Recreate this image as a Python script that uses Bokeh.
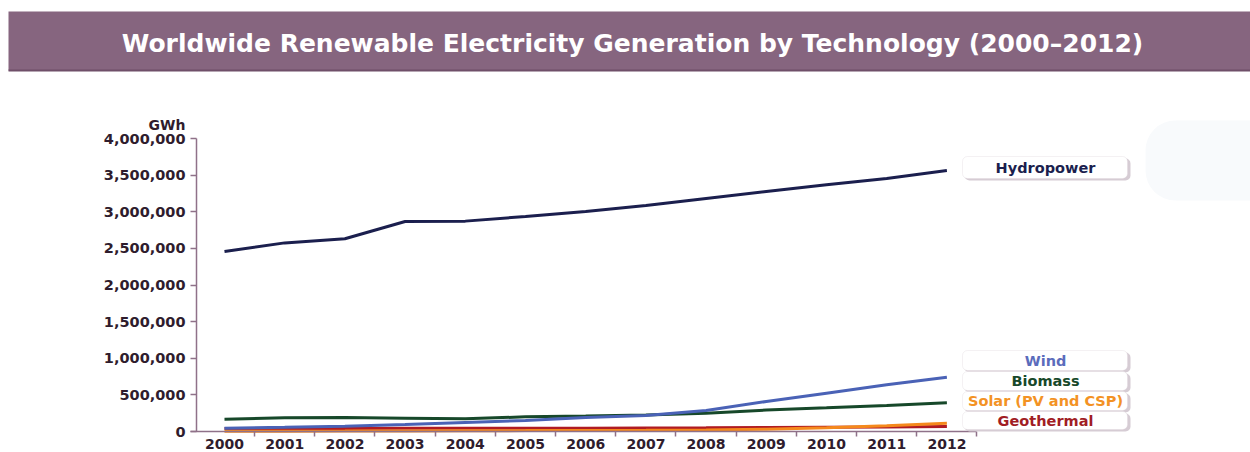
from bokeh.plotting import figure
from bokeh.models import (Range1d, FixedTicker, NumeralTickFormatter, BoxAnnotation,
                          Label, ColumnDataSource, LinearAxis)
from bokeh.core.properties import value
from bokeh.embed import file_html
from bokeh.resources import INLINE

# ---- data (GWh) ----
years = [2000, 2001, 2002, 2003, 2004, 2005, 2006, 2007, 2008, 2009, 2010, 2011, 2012]
hydropower = [2457000, 2575000, 2632000, 2867000, 2872000, 2935000, 3003000, 3085000,
              3180000, 3276000, 3370000, 3454000, 3563000]
wind = [45000, 57000, 73000, 96000, 123000, 150000, 192000, 220000, 287000, 410000,
        523000, 637000, 740000]
biomass = [168000, 188000, 190000, 182000, 175000, 200000, 212000, 226000, 250000,
           293000, 323000, 355000, 391000]
solar = [3000, 5000, 6000, 8000, 10000, 12000, 15000, 18000, 22000, 30000, 50000,
         80000, 113000]
geothermal = [40000, 41000, 42000, 43000, 44000, 45000, 46000, 48000, 51000, 55000,
              59000, 63000, 68000]
series_names = ["Hydropower", "Wind", "Biomass", "Solar (PV and CSP)", "Geothermal"]
y_ticks = [0, 500000, 1000000, 1500000, 2000000, 2500000, 3000000, 3500000, 4000000]

# ---- styling ----
COLORS = {
    "Hydropower": "#1b1f4e",
    "Wind": "#4a62b6",
    "Biomass": "#17482a",
    "Solar (PV and CSP)": "#f5891c",
    "Geothermal": "#b01b22",
}
TEXT_COLORS = {
    "Hydropower": "#1b1f4e",
    "Wind": "#5b6cbc",
    "Biomass": "#17482a",
    "Solar (PV and CSP)": "#f39224",
    "Geothermal": "#a11d24",
}
PURPLE = "#86657f"
AXIS = "#8f7189"
LABEL = "#2f1c2d"
FONT = "DejaVu Sans"

W, H = 1250, 452
LEFT, BOTTOM = 196, 431           # y-axis position / baseline in canvas pixels
PX_YEAR = 60.2                    # pixels per year
PX_GWH = 293 / 4000000            # pixels per GWh
X0 = 1999.535                     # year value at the y-axis


def px_x(px):
    return X0 + (px - LEFT) / PX_YEAR


def px_y(py):
    return (BOTTOM - py) / PX_GWH


# the plotting frame covers the whole canvas; axes are pinned with fixed_location
p = figure(width=W, height=H, output_backend="svg", toolbar_location=None,
           x_range=Range1d(px_x(0), px_x(W)), y_range=Range1d(px_y(H), px_y(0)),
           x_axis_type=None, y_axis_type=None,
           min_border_left=0, min_border_right=0, min_border_top=0, min_border_bottom=0)
p.outline_line_color = None
p.xgrid.visible = False
p.ygrid.visible = False
p.background_fill_color = "white"
p.border_fill_color = "white"

# y axis
yax = LinearAxis(ticker=FixedTicker(ticks=y_ticks), formatter=NumeralTickFormatter(format="0,0"),
                 fixed_location=X0)
yax.bounds = (0, 4000000)
yax.axis_line_color = AXIS
yax.axis_line_width = 1.5
yax.major_tick_line_color = AXIS
yax.major_tick_line_width = 1.5
yax.major_tick_out = 6
yax.major_tick_in = 0
yax.minor_tick_line_color = None
yax.major_label_standoff = 5
yax.major_label_text_font = FONT
yax.major_label_text_font_style = "bold"
yax.major_label_text_font_size = "14.5px"
yax.major_label_text_color = LABEL
p.add_layout(yax, "left")

# x axis: labels on years, tick marks between years
xax = LinearAxis(ticker=FixedTicker(ticks=years, minor_ticks=[y + 0.5 for y in years]),
                 fixed_location=0)
xax.bounds = (X0 - 0.1, 2012.5)
xax.axis_line_color = AXIS
xax.axis_line_width = 1.5
xax.major_tick_line_color = None
xax.major_tick_out = 0
xax.major_tick_in = 0
xax.minor_tick_line_color = AXIS
xax.minor_tick_line_width = 1.5
xax.minor_tick_out = 5
xax.minor_tick_in = 0
xax.major_label_standoff = 2
xax.major_label_text_font = FONT
xax.major_label_text_font_style = "bold"
xax.major_label_text_font_size = "14px"
xax.major_label_text_color = LABEL
p.add_layout(xax, "below")

# series lines
series = {
    "Hydropower": hydropower,
    "Wind": wind,
    "Biomass": biomass,
    "Solar (PV and CSP)": solar,
    "Geothermal": geothermal,
}
for name in ["Geothermal", "Solar (PV and CSP)", "Biomass", "Wind", "Hydropower"]:
    p.line(years, series[name], line_color=COLORS[name], line_width=3)

# header banner
p.add_layout(BoxAnnotation(left=px_x(8), right=px_x(W), top=px_y(11), bottom=px_y(70),
                           fill_color=PURPLE, fill_alpha=1, line_color=None, level="annotation"))
p.add_layout(BoxAnnotation(left=px_x(8), right=px_x(W), top=px_y(69), bottom=px_y(71),
                           fill_color="#6f4f69", fill_alpha=1, line_color=None, level="annotation"))
p.add_layout(Label(x=px_x(632), y=px_y(43),
                   text="Worldwide Renewable Electricity Generation by Technology (2000\u20132012)",
                   text_font=FONT, text_font_style="bold", text_font_size="25px",
                   text_color="white", text_align="center", text_baseline="middle",
                   level="overlay"))

# unit label
p.add_layout(Label(x=px_x(185), y=px_y(124), text="GWh", text_font=FONT,
                   text_font_style="bold", text_font_size="14px", text_color=LABEL,
                   text_align="right", text_baseline="alphabetic", level="overlay"))

# faint decoration at top right
p.add_layout(BoxAnnotation(left=px_x(1145), right=px_x(1290), top=px_y(120), bottom=px_y(200),
                           fill_color="#f8fafc", fill_alpha=1, line_color=None,
                           border_radius=30, level="underlay"))

# series name tags
tag_rows = {  # top / bottom in canvas pixels
    "Hydropower": (156, 178),
    "Wind": (350, 370),
    "Biomass": (371, 390),
    "Solar (PV and CSP)": (391, 410),
    "Geothermal": (411, 429),
}
tx, ty, tt, tc = [], [], [], []
for name in series_names:
    top, bot = tag_rows[name]
    p.add_layout(BoxAnnotation(left=px_x(964), right=px_x(1130), top=px_y(top + 2),
                               bottom=px_y(bot + 2), fill_color="#d6ccd4", fill_alpha=1,
                               line_color=None, border_radius=5, level="annotation"))
    p.add_layout(BoxAnnotation(left=px_x(962), right=px_x(1127), top=px_y(top),
                               bottom=px_y(bot), fill_color="white", fill_alpha=1,
                               line_color="#d9d0d7", line_width=1, border_radius=5,
                               level="annotation"))
    tx.append(px_x(1045))
    ty.append(px_y((top + bot) / 2))
    tt.append(name)
    tc.append(TEXT_COLORS[name])

src = ColumnDataSource(dict(x=tx, y=ty, t=tt, c=tc))
tags = p.text(x="x", y="y", text="t", text_color="c", source=src,
              text_font=value(FONT), text_font_style="bold", text_font_size="14.5px",
              text_align="center", text_baseline="middle")
tags.level = "overlay"

open("out.html", "w").write(file_html(p, INLINE))
